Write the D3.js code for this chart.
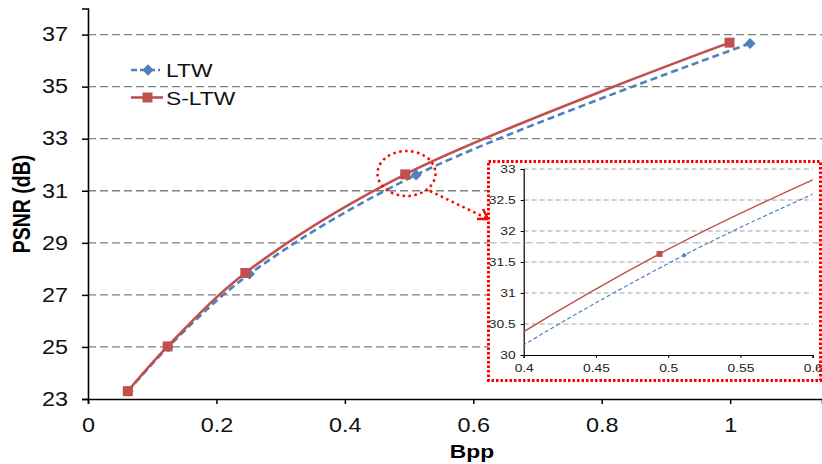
<!DOCTYPE html>
<html><head><meta charset="utf-8">
<script src="https://cdn.jsdelivr.net/npm/d3@7"></script>
<style>body{margin:0;background:#fff;} svg{display:block;font-family:"Liberation Sans",Arial,sans-serif;}</style>
</head><body>
<svg id="c" width="822" height="464"></svg>
<script>
const ltwBpp  = [0.0625, 0.125, 0.2515, 0.511, 1.031];
const ltwPsnr = [23.3, 25.0, 27.8, 31.61, 36.66];
const sltwBpp  = [0.062, 0.124, 0.245, 0.494, 0.999];
const sltwPsnr = [23.3, 25.02, 27.84, 31.63, 36.69];
const seriesNames = ["LTW", "S-LTW"];
const xTicks = [0, 0.2, 0.4, 0.6, 0.8, 1];
const yTicks = [23, 25, 27, 29, 31, 33, 35, 37];
const insetXTicks = [0.4, 0.45, 0.5, 0.55, 0.6];
const insetYTicks = [30, 30.5, 31, 31.5, 32, 32.5, 33];

const svg = d3.select("#c");
const blue = "#4F81BD", red = "#C0504D";
const SX = 1.2; // horizontal stretch of the original figure's text

const x = d3.scaleLinear().domain([0, 1.143]).range([88, 822]);
const y = d3.scaleLinear().domain([23, 38]).range([399, 8.55]);

const ltw = ltwBpp.map((b, i) => ({x: b, y: ltwPsnr[i]}));
const sltw = sltwBpp.map((b, i) => ({x: b, y: sltwPsnr[i]}));

function stretch(sel) {
  sel.each(function() {
    const t = d3.select(this);
    const xx = +t.attr("x") || 0;
    t.attr("x", xx / SX).attr("transform", `scale(${SX},1)`);
  });
}

// grid
svg.append("g").selectAll("line").data(yTicks.filter(d => d > 23)).join("line")
  .attr("x1", 88).attr("x2", 822).attr("y1", d => y(d)).attr("y2", d => y(d))
  .attr("stroke", "#7f7f7f").attr("stroke-width", 1.3).attr("stroke-dasharray", "8,4");

// axes
const yAxis = svg.append("g").attr("transform", "translate(88,0)")
  .call(d3.axisLeft(y).tickValues(yTicks).tickSize(6).tickPadding(14).tickFormat(d3.format("d")));
const xAxis = svg.append("g").attr("transform", "translate(0,399)")
  .call(d3.axisBottom(x).tickValues(xTicks).tickSize(5).tickPadding(14).tickFormat(d => d === 0 ? "0" : d === 1 ? "1" : d3.format(".1f")(d)));
[yAxis, xAxis].forEach(a => {
  a.select(".domain").attr("stroke", "#000").attr("stroke-width", 1.6);
  a.selectAll(".tick line").attr("stroke", "#000").attr("stroke-width", 1.5);
  a.selectAll("text").attr("font-size", 19.5).attr("fill", "#111")
    .attr("font-family", "'Liberation Sans',Arial,sans-serif").call(stretch);
});

// axis titles
svg.append("text").attr("transform", `translate(472,458) scale(${SX},1)`).attr("text-anchor", "middle")
  .attr("font-size", 19).attr("font-weight", "bold").text("Bpp");
svg.append("text").attr("transform", `translate(30,204) rotate(-90) scale(1,${SX})`).attr("text-anchor", "middle")
  .attr("font-size", 19.5).attr("font-weight", "bold").text("PSNR (dB)");

// lines
const line = d3.line().x(d => x(d.x)).y(d => y(d.y)).curve(d3.curveCatmullRom.alpha(0.5));
svg.append("path").datum(ltw).attr("d", line).attr("fill", "none")
  .attr("stroke", blue).attr("stroke-width", 2.6).attr("stroke-dasharray", "7,4");
svg.append("path").datum(sltw).attr("d", line).attr("fill", "none")
  .attr("stroke", red).attr("stroke-width", 2.6);

function drawDiamonds(g, data, sx, sy, s) {
  g.selectAll(null).data(data).join("rect")
    .attr("x", -s/2).attr("y", -s/2).attr("width", s).attr("height", s)
    .attr("transform", d => `translate(${sx(d.x)},${sy(d.y)}) rotate(45)`)
    .attr("fill", blue);
}
function drawSquares(g, data, sx, sy, s) {
  g.selectAll(null).data(data).join("rect")
    .attr("x", d => sx(d.x) - s/2).attr("y", d => sy(d.y) - s/2)
    .attr("width", s).attr("height", s).attr("fill", red);
}
drawDiamonds(svg.append("g"), ltw, x, y, 7.8);
drawSquares(svg.append("g"), sltw, x, y, 10);

// legend
const lg = svg.append("g");
lg.append("line").attr("x1", 131).attr("x2", 160).attr("y1", 70).attr("y2", 70)
  .attr("stroke", blue).attr("stroke-width", 2.6).attr("stroke-dasharray", "6,3");
lg.append("rect").attr("x", -4).attr("y", -4).attr("width", 8).attr("height", 8)
  .attr("transform", "translate(148,70) rotate(45)").attr("fill", blue);
lg.append("text").attr("transform", `translate(166,77) scale(${SX},1)`).attr("font-size", 19).attr("fill", "#111").text(seriesNames[0]);
lg.append("line").attr("x1", 131).attr("x2", 163).attr("y1", 97.5).attr("y2", 97.5)
  .attr("stroke", red).attr("stroke-width", 2.6);
lg.append("rect").attr("x", 142.5).attr("y", 92.5).attr("width", 10).attr("height", 10).attr("fill", red);
lg.append("text").attr("transform", `translate(166,104.5) scale(${SX},1)`).attr("font-size", 19).attr("fill", "#111").text(seriesNames[1]);

// highlight ellipse + arrow
svg.append("ellipse").attr("cx", 406.5).attr("cy", 173.5).attr("rx", 29).attr("ry", 22.5)
  .attr("fill", "none").attr("stroke", "#FF0000").attr("stroke-width", 2.5).attr("stroke-dasharray", "2.5,3.5");
svg.append("line").attr("x1", 430).attr("y1", 191).attr("x2", 486).attr("y2", 218)
  .attr("stroke", "#FF0000").attr("stroke-width", 2.5).attr("stroke-dasharray", "2.5,3.5");
svg.append("path").attr("d", "M477,219 L488,219 L483,209").attr("fill", "none")
  .attr("stroke", "#FF0000").attr("stroke-width", 2.5);

// inset
const ix = d3.scaleLinear().domain([0.4, 0.6]).range([523.7, 812.7]);
const iy = d3.scaleLinear().domain([30, 33]).range([355, 169]);
const inset = svg.append("g");
inset.append("rect").attr("x", 488.5).attr("y", 161.5).attr("width", 333).attr("height", 219).attr("fill", "#fff");
inset.append("g").selectAll("line").data(insetYTicks.filter(d => d > 30)).join("line")
  .attr("x1", 523.7).attr("x2", 812.7).attr("y1", d => iy(d)).attr("y2", d => iy(d))
  .attr("stroke", "#9a9a9a").attr("stroke-width", 0.9).attr("stroke-dasharray", "5,3");
const iyA = inset.append("g").attr("transform", "translate(523.7,0)")
  .call(d3.axisLeft(iy).tickValues(insetYTicks).tickSize(3).tickPadding(5).tickFormat(d => String(d)));
const ixA = inset.append("g").attr("transform", "translate(0,355)")
  .call(d3.axisBottom(ix).tickValues(insetXTicks).tickSize(3).tickPadding(6).tickFormat(d => String(d)));
[iyA, ixA].forEach(a => {
  a.select(".domain").attr("stroke", "#000").attr("stroke-width", 1.2);
  a.selectAll(".tick line").attr("stroke", "#000");
  a.selectAll("text").attr("font-size", 11.5).attr("fill", "#222")
    .attr("font-family", "'Liberation Sans',Arial,sans-serif").call(stretch);
});
svg.append("clipPath").attr("id", "ic").append("rect")
  .attr("x", 523.7).attr("y", 169).attr("width", 289).attr("height", 186);
const iline = d3.line().x(d => ix(d.x)).y(d => iy(d.y)).curve(d3.curveCatmullRom.alpha(0.5));
const ig = inset.append("g").attr("clip-path", "url(#ic)");
ig.append("path").datum(ltw).attr("d", iline).attr("fill", "none")
  .attr("stroke", blue).attr("stroke-width", 1.2).attr("stroke-dasharray", "4,2.5");
ig.append("path").datum(sltw).attr("d", iline).attr("fill", "none")
  .attr("stroke", red).attr("stroke-width", 1.5);
drawDiamonds(ig, ltw, ix, iy, 3.6);
drawSquares(ig, sltw, ix, iy, 6);
// main gridline 29 shows through the inset image
inset.append("line").attr("x1", 488.5).attr("x2", 822).attr("y1", y(29)).attr("y2", y(29))
  .attr("stroke", "#aaaaaa").attr("stroke-width", 1).attr("stroke-dasharray", "8,4");
inset.append("rect").attr("x", 488.5).attr("y", 161.5).attr("width", 332).attr("height", 219)
  .attr("fill", "none").attr("stroke", "#FF0000").attr("stroke-width", 3).attr("stroke-dasharray", "2.5,2");
</script>
</body></html>
